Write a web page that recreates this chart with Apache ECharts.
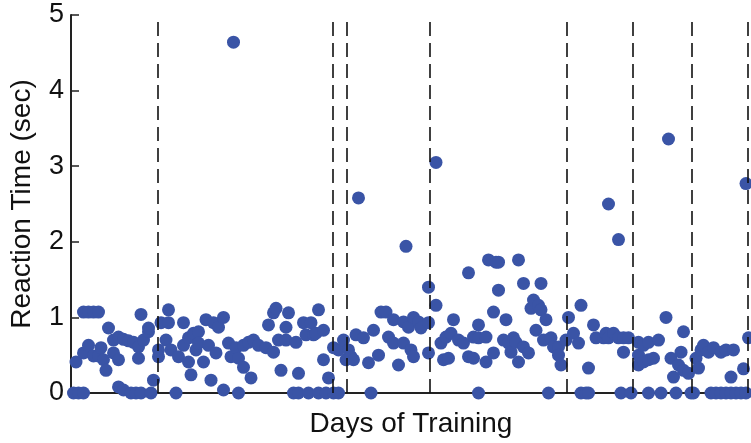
<!DOCTYPE html>
<html>
<head>
<meta charset="utf-8">
<script src="https://cdn.jsdelivr.net/npm/echarts@6/dist/echarts.min.js"></script>
<style>
html,body{margin:0;padding:0;background:#fff;}
#chart{width:751px;height:443px;}
</style>
</head>
<body>
<div id="chart"></div>
<script>
// Trial index (x) and reaction time in seconds (y)
const trial = [
1,2,3,5,5,5,7,7,9,9,11,11,12,13,14,15,17,17,19,19,19,21,21,23,24,25,26,27,27,28,28,29,31,31,32,33,35,35,36,38,39,39,40,42,43,45,45,47,47,48,49,50,51,51,53,54,55,56,57,58,59,61,61,
63,64,65,66,67,67,69,69,71,72,73,75,78,79,81,81,82,83,84,86,86,87,89,90,91,91,93,94,95,96,97,98,99,99,101,101,102,103,
105,105,107,107,109,110,111,112,113,114,115,117,119,120,121,123,124,126,127,129,129,131,133,133,134,135,136,137,137,139,140,143,143,143,
146,146,148,149,150,151,152,153,155,157,159,159,161,161,163,163,163,166,166,167,169,169,170,171,171,173,174,175,176,177,178,179,179,181,181,183,184,185,186,187,188,188,189,190,191,192,193,195,195,196,
198,199,201,203,204,204,206,207,207,209,210,213,214,215,215,217,219,219,220,221,221,223,224,
227,227,227,229,229,231,231,231,233,235,236,238,239,240,241,242,243,244,245,245,247,248,249,
250,251,252,253,255,256,257,258,260,260,262,262,264,264,265,266,268,269,270,270,271
];
const reactionSec = [
0,0.41,0,0,1.07,0.53,0.63,1.07,0.49,1.07,1.07,0.49,0.6,0.44,0.3,0.86,0.7,0.53,0.08,0.44,0.74,0.04,0.71,0.69,0,0.67,0,0.61,0.46,1.04,0,0.7,0.81,0.86,0,0.17,0.57,0.48,0.93,0.7,1.1,0.93,0.57,0,0.48,0.63,0.93,0.73,0.41,0.24,0.79,0.57,0.81,0.66,0.41,0.97,0.63,0.17,0.93,0.53,0.87,0.04,1.0,
0.66,0.48,4.64,0.6,0.46,0,0.63,0.34,0.67,0.2,0.7,0.63,0.6,0.9,1.06,0.54,1.12,0.7,0.3,0.87,0.7,1.06,0,0.67,0.26,0,0.93,0.77,0,0.93,0.77,0.79,0,1.1,0.44,0.83,0,0.2,
0.6,0,0.57,0,0.7,0.44,0.57,0.48,0.44,0.77,2.58,0.73,0.4,0,0.83,0.5,1.07,1.07,0.74,0.97,0.66,0.37,0.94,0.66,1.94,0.87,0.57,1.0,0.48,0.94,0.86,1.4,0.93,0.53,
3.05,1.16,0.66,0.44,0.74,0.46,0.79,0.97,0.7,0.66,1.59,0.48,0.74,0.46,0.9,0,0.73,0.74,0.41,1.76,0.53,1.07,1.73,1.73,1.36,0.7,0.97,0.66,0.54,0.73,0.67,1.76,0.41,1.45,0.61,0.53,1.12,1.23,0.83,1.16,1.1,1.45,0.7,0.97,0,0.73,0.61,0.61,0.5,0.37,
0.7,1.0,0.79,0.66,1.16,0,0,0,0.33,0.9,0.73,0.73,0.79,2.5,0.73,0.79,0.73,2.03,0,0.54,0.73,0.73,0,
0.67,0.37,0.5,0.63,0.41,0.67,0,0.44,0.46,0.7,0,1.0,3.36,0.46,0.21,0,0.37,0.54,0.81,0.3,0.26,0,0,
0.46,0.33,0.57,0.63,0.54,0,0.6,0,0.54,0,0.57,0,0.21,0,0.57,0,0,0.32,0,2.77,0.73
];
// Day boundaries (trial positions of dashed lines)
const dayBoundaries = [34.8,104.8,110.4,143.6,198.4,224.8,248.4,270.8];
const yTicks = [0,1,2,3,4,5];

const points = trial.map((t,i)=>[t, reactionSec[i]]);

const chart = echarts.init(document.getElementById('chart'));
chart.setOption({
  animation:false,
  backgroundColor:'#ffffff',
  grid:{left:70,right:0,top:15,bottom:50,containLabel:false},
  xAxis:{
    type:'value',min:0,max:272,
    name:'Days of Training',nameLocation:'middle',nameGap:17,
    nameTextStyle:{fontFamily:'Liberation Sans, Arial',fontSize:28,color:'#111'},
    axisLine:{show:true,onZero:false,lineStyle:{color:'#222',width:2}},
    axisTick:{show:false},axisLabel:{show:false},splitLine:{show:false}
  },
  yAxis:{
    type:'value',min:yTicks[0],max:yTicks[yTicks.length-1],interval:1,
    name:'Reaction Time (sec)',nameLocation:'middle',nameGap:35,
    nameTextStyle:{fontFamily:'Liberation Sans, Arial',fontSize:28,color:'#111'},
    axisLine:{show:true,lineStyle:{color:'#222',width:2}},
    axisTick:{show:true,inside:true,length:8,lineStyle:{color:'#222',width:1.5}},
    axisLabel:{fontFamily:'Liberation Sans, Arial',fontSize:27,color:'#111',margin:7},
    splitLine:{show:false}
  },
  series:[
    {
      type:'scatter',data:[],z:1,silent:true,
      markLine:{
        silent:true,symbol:['none','none'],label:{show:false},
        lineStyle:{color:'#111',type:[14,7],width:1.6},
        data:dayBoundaries.map(v=>({xAxis:v}))
      }
    },
    {
      type:'scatter',data:points,z:3,clip:false,
      symbol:'circle',symbolSize:13,
      itemStyle:{color:'#3A54A6',opacity:1}
    }
  ]
});
</script>
</body>
</html>
